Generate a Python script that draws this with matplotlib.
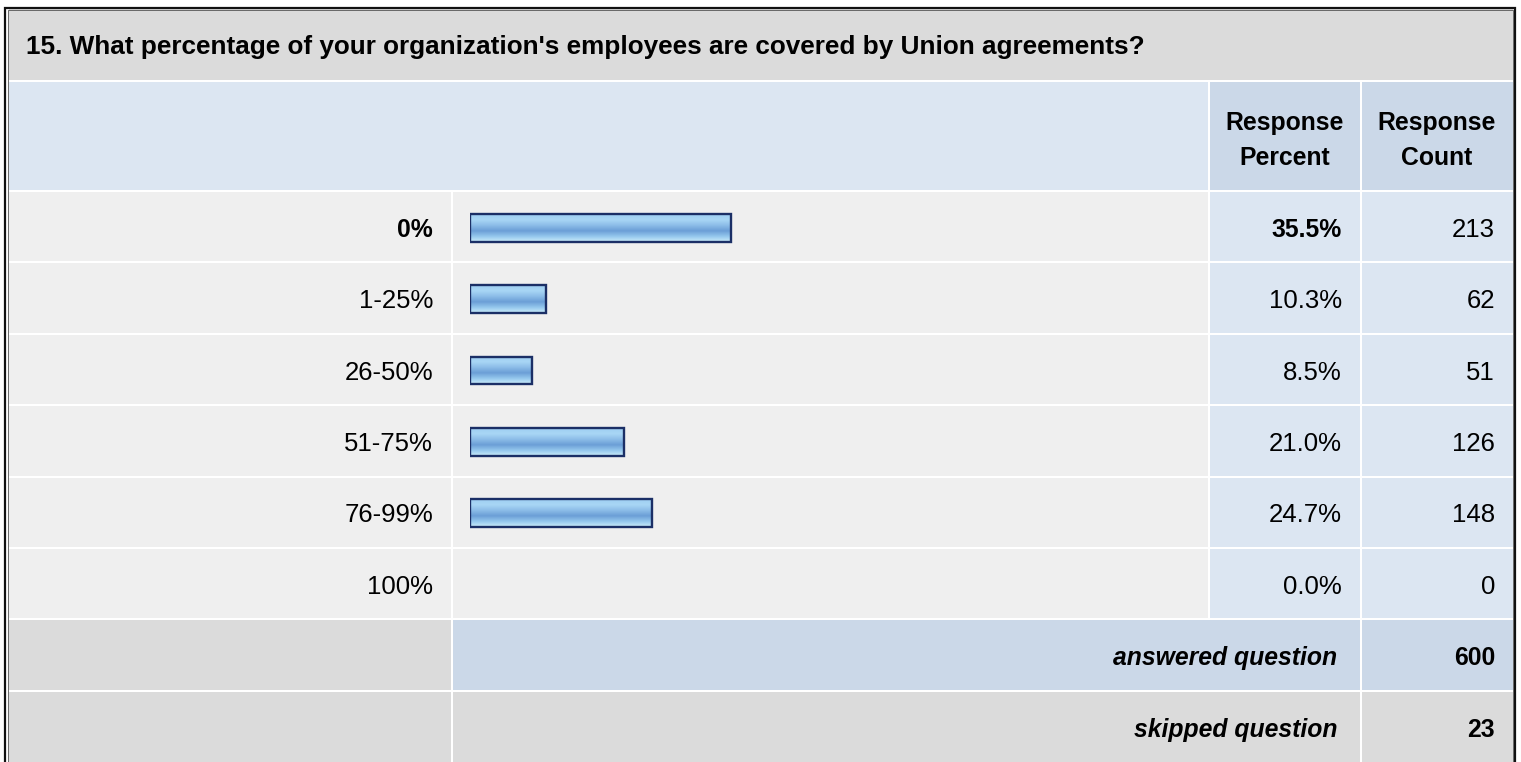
import numpy as np
import matplotlib
matplotlib.use('Agg')
import matplotlib.pyplot as plt
from matplotlib.patches import Rectangle

plt.rcParams['font.family'] = ['Liberation Sans', 'DejaVu Sans']

question = "15. What percentage of your organization's employees are covered by Union agreements?"
options = ['0%', '1-25%', '26-50%', '51-75%', '76-99%', '100%']
percents = [35.5, 10.3, 8.5, 21.0, 24.7, 0.0]
counts = [213, 62, 51, 126, 148, 0]
answered = 600
skipped = 23

W, H = 1521, 762
fig = plt.figure(figsize=(W / 100, H / 100), dpi=100)
ax = fig.add_axes([0, 0, 1, 1])
ax.set_xlim(0, W)
ax.set_ylim(H, 0)
ax.axis('off')

GRAY = '#dbdbdb'
LIGHT = '#efefef'
BLUE = '#dce6f2'
BLUE2 = '#cbd8e8'
FS = 18.5      # regular cell text
FSB = 17.8     # bold header / summary text

# column edges (px)
c_lab = (9, 451)
c_bar = (453, 1208)
c_pct = (1210, 1360)
c_cnt = (1362, 1513)
row_top, row_h = 192, 71.4


def cell(x0, x1, y0, y1, color):
    ax.add_patch(Rectangle((x0, y0), x1 - x0, y1 - y0, facecolor=color, edgecolor='none'))


# title band
cell(9, 1513, 9, 80, GRAY)
ax.text(26, 47, question, fontsize=18.8, fontweight='bold', va='center', ha='left')

# header
cell(c_lab[0], c_bar[1], 82, 190, BLUE)
cell(c_pct[0], c_pct[1], 82, 190, BLUE2)
cell(c_cnt[0], c_cnt[1], 82, 190, BLUE2)
for cx, word in [(1285, 'Percent'), (1437, 'Count')]:
    ax.text(cx, 123, 'Response', fontsize=FSB, fontweight='bold', ha='center', va='center')
    ax.text(cx, 158, word, fontsize=FSB, fontweight='bold', ha='center', va='center')

# data rows
top_pct = max(percents)
for i, (opt, p, n) in enumerate(zip(options, percents, counts)):
    y0 = row_top + i * row_h
    y1 = y0 + row_h - 2
    cell(c_lab[0], c_lab[1], y0, y1, LIGHT)
    cell(c_bar[0], c_bar[1], y0, y1, LIGHT)
    cell(c_pct[0], c_pct[1], y0, y1, BLUE)
    cell(c_cnt[0], c_cnt[1], y0, y1, BLUE)
    yc = (y0 + y1) / 2 + 3
    bold = p == top_pct
    w = 'bold' if bold else 'normal'
    fs = FSB if bold else FS
    ax.text(433, yc, opt, fontsize=fs, fontweight=w, ha='right', va='center')
    ax.text(1342, yc, f'{p:.1f}%', fontsize=fs, fontweight=w, ha='right', va='center')
    ax.text(1495, yc, f'{n}', fontsize=FS, ha='right', va='center')

# summary rows
y_ans = row_top + len(options) * row_h
cell(c_lab[0], c_lab[1], y_ans, y_ans + 70, GRAY)
cell(c_bar[0], c_pct[1], y_ans, y_ans + 70, BLUE2)
cell(c_cnt[0], c_cnt[1], y_ans, y_ans + 70, BLUE2)
ax.text(1337, y_ans + 38, 'answered question', fontsize=FSB, fontweight='bold',
        style='italic', ha='right', va='center')
ax.text(1495, y_ans + 38, f'{answered}', fontsize=FSB, fontweight='bold', ha='right', va='center')

y_sk = y_ans + 72
cell(c_lab[0], c_lab[1], y_sk, H, GRAY)
cell(c_bar[0], c_pct[1], y_sk, H, GRAY)
cell(c_cnt[0], c_cnt[1], y_sk, H, GRAY)
ax.text(1337, y_sk + 38, 'skipped question', fontsize=FSB, fontweight='bold',
        style='italic', ha='right', va='center')
ax.text(1495, y_sk + 38, f'{skipped}', fontsize=FSB, fontweight='bold', ha='right', va='center')

# outer frame
ax.plot([5, 5, 1515, 1515], [H + 5, 7.5, 7.5, H + 5], color='#111111', lw=1.6,
        solid_joinstyle='miter')
ax.plot([7.5, 7.5, 1512.5, 1512.5], [H + 5, 9.5, 9.5, H + 5], color='#555555', lw=0.6)

# bars, 0..100% over 735 px starting at x=470
bx0, bw = 470, 735
bax = fig.add_axes([bx0 / W, 1 - (row_top + 6 * row_h) / H, bw / W, 6 * row_h / H])
bax.patch.set_alpha(0)
bax.axis('off')
ypos = np.arange(len(options))
bars = bax.barh(ypos, percents, height=0.39, left=0, facecolor='none',
                edgecolor='#1b2f66', linewidth=1.7, zorder=3)

stops = np.array([
    [0.62, 0.81, 0.95],
    [0.66, 0.84, 0.96],
    [0.55, 0.74, 0.91],
    [0.42, 0.62, 0.84],
    [0.58, 0.78, 0.93],
    [0.80, 0.93, 0.98],
])
t = np.linspace(0, 1, 64)
st = np.linspace(0, 1, len(stops))
grad = np.stack([np.interp(t, st, stops[:, k]) for k in range(3)], axis=-1)[:, None, :]
for b in bars:
    if b.get_width() <= 0:
        b.set_visible(False)
        continue
    x0, y0 = b.get_x(), b.get_y()
    im = bax.imshow(grad, extent=(x0, x0 + b.get_width(), y0 + b.get_height(), y0),
                    origin='upper', aspect='auto', zorder=2)
    im.set_clip_path(b)
bax.set_xlim(0, 100)
bax.set_ylim(len(options) - 0.5, -0.5)

fig.savefig('out.png', dpi=100)
